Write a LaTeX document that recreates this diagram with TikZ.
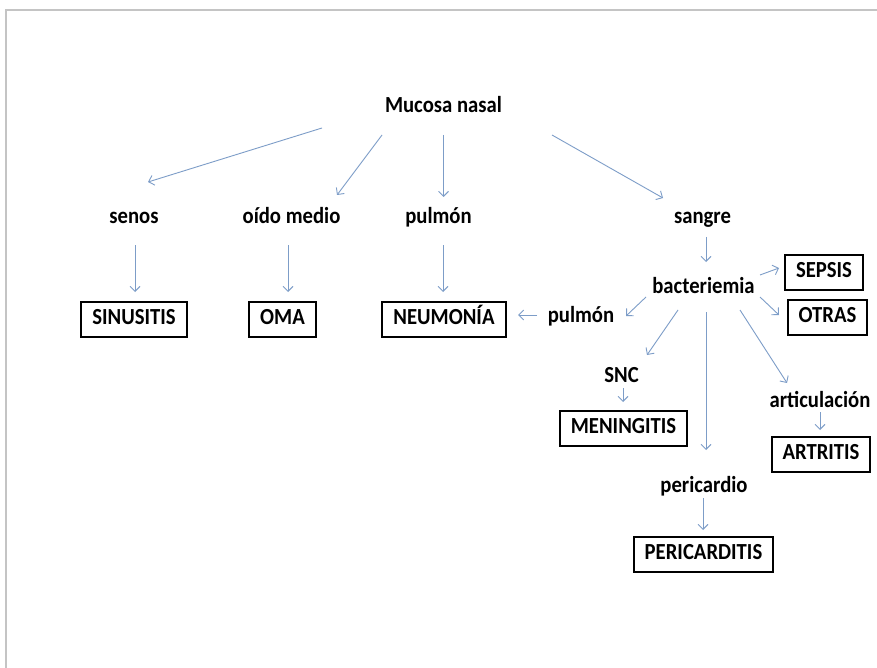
\documentclass[tikz,border=0pt]{standalone}
\usepackage{fontspec}
\setmainfont{Carlito}[FakeStretch=0.9]
\usepackage{xcolor}
\definecolor{arrowBlue}{HTML}{7D9DC8}
\definecolor{pageEdge}{HTML}{C4C4C4}
\usetikzlibrary{arrows.meta,calc}

\tikzset{
  lbl/.style={font=\fontsize{23}{26}\selectfont\bfseries, text height=15pt, text depth=5pt, inner sep=0pt},
  dx/.style={lbl, draw=black, line width=2pt, inner xsep=11pt, minimum height=35pt},
  arr/.style={draw=arrowBlue, line width=0.9pt, -{Straight Barb[length=5pt,width=10pt]}}
}

\begin{document}
\begin{tikzpicture}[x=1pt, y=-1pt]
  \useasboundingbox (0,0) rectangle (877,668);
  \fill[white] (0,0) rectangle (877,668);
  \draw[pageEdge, line width=2pt] (6,668) -- (6,10) -- (877,10);

  % top level
  \node[lbl] (muc) at (443.5,107.5) {Mucosa nasal};
  \node[lbl] (senos) at (134,218.5) {senos};
  \node[lbl] (oido) at (291.5,218.5) {oído medio};
  \node[lbl] (pulA) at (438.5,218.5) {pulmón};
  \node[lbl] (sangre) at (702.5,218.5) {sangre};

  \node[dx] (sinus) at (134,319.5) {SINUSITIS};
  \node[dx] (oma) at (282.5,319.5) {OMA};
  \node[dx] (neumo) at (444,319.5) {NEUMONÍA};

  % bacteriemia branch
  \node[lbl] (bact) at (703.5,288.5) {bacteriemia};
  \node[lbl] (pulB) at (581,317.5) {pulmón};
  \node[dx] (sepsis) at (824,272) {SEPSIS};
  \node[dx] (otras) at (827.5,317) {OTRAS};
  \node[lbl] (snc) at (621.5,377.5) {SNC};
  \node[dx] (mening) at (623.5,428.5) {MENINGITIS};
  \node[lbl] (peric) at (704,487.5) {pericardio};
  \node[dx] (pericard) at (703.5,554) {PERICARDITIS};
  \node[lbl] (artic) at (820,402.5) {articulación};
  \node[dx] (artritis) at (821,454.5) {ARTRITIS};

  % arrows
  \draw[arr] ($(muc)+(-121.5,20.5)$) -- ($(senos)+(14,-36.5)$);
  \draw[arr] ($(muc)+(-61.5,27.5)$) -- ($(oido)+(45.5,-23.5)$);
  \draw[arr] ($(muc)+(0,27.5)$) -- ($(pulA)+(5,-21.5)$);
  \draw[arr] ($(muc)+(108.5,27.5)$) -- ($(sangre)+(-39.5,-20.5)$);

  \draw[arr] ($(senos)+(1,26.5)$) -- ($(sinus)+(1,-27.5)$);
  \draw[arr] ($(oido)+(-3.5,26.5)$) -- ($(oma)+(5.5,-27.5)$);
  \draw[arr] ($(pulA)+(4.5,26.5)$) -- ($(neumo)+(-1,-27.5)$);
  \draw[arr] ($(sangre)+(3.5,18.5)$) -- ($(bact)+(2.5,-26.5)$);

  \draw[arr] ($(bact)+(56.5,-13.5)$) -- ($(sepsis)+(-45,-4)$);
  \draw[arr] ($(bact)+(56.5,8.5)$) -- ($(otras)+(-48.5,-2)$);
  \draw[arr] ($(bact)+(-57.5,8.5)$) -- ($(pulB)+(45,-1.5)$);
  \draw[arr] ($(pulB)+(-44,-2.5)$) -- ($(neumo)+(74,-4.5)$);
  \draw[arr] ($(bact)+(-25.5,21.5)$) -- ($(snc)+(25.5,-22.5)$);
  \draw[arr] ($(bact)+(2.5,23.5)$) -- ($(peric)+(2,-37.5)$);
  \draw[arr] ($(bact)+(36.5,21.5)$) -- ($(artic)+(-33,-19.5)$);

  \draw[arr] ($(snc)+(1.5,10.5)$) -- ($(mening)+(-0.5,-26.5)$);
  \draw[arr] ($(artic)+(0,9.5)$) -- ($(artritis)+(-1,-24.5)$);
  \draw[arr] ($(peric)+(-1,10.5)$) -- ($(pericard)+(-0.5,-24)$);
\end{tikzpicture}
\end{document}
